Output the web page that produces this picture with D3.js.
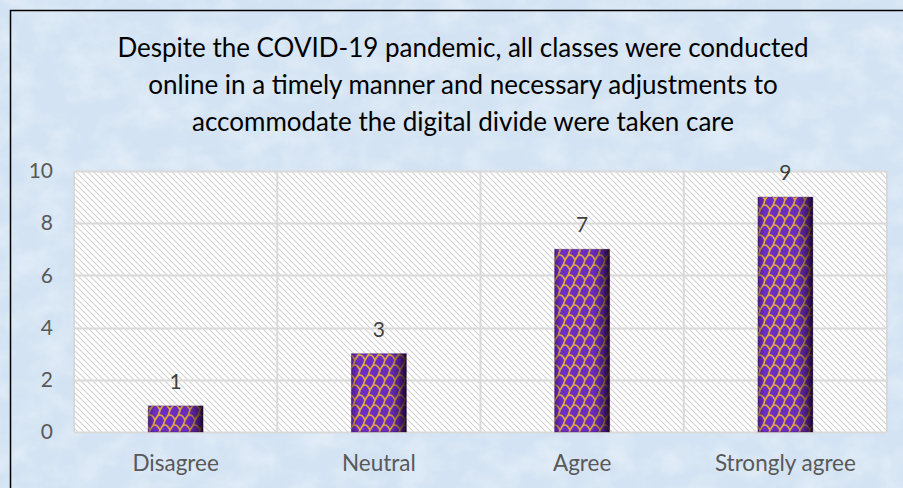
<!DOCTYPE html>
<html>
<head>
<meta charset="utf-8">
<script src="https://cdn.jsdelivr.net/npm/d3@7/dist/d3.min.js"></script>
<style>
  body { margin: 0; padding: 0; background: #fff; }
  svg { display: block; }
  text { font-family: Lato, "Open Sans", sans-serif; }
</style>
</head>
<body>
<div id="chart"></div>
<script>
// chart data
var categories = ["Disagree", "Neutral", "Agree", "Strongly agree"];
var values = [1, 3, 7, 9];
var yTicks = [0, 2, 4, 6, 8, 10];
var titleLines = [
    "Despite the COVID-19 pandemic, all classes were conducted",
    "online in a timely manner and necessary adjustments to",
    "accommodate the digital divide were taken care"
];

var width = 903, height = 488;
var plot = {left: 74, right: 887, top: 171, bottom: 432};

var svg = d3.select("#chart").append("svg")
    .attr("width", width)
    .attr("height", height);

var defs = svg.append("defs");

// mottled blue background
var f = defs.append("filter").attr("id", "mottle")
    .attr("x", 0).attr("y", 0).attr("width", "100%").attr("height", "100%");
f.append("feTurbulence").attr("type", "fractalNoise")
    .attr("baseFrequency", "0.03 0.04").attr("numOctaves", 4).attr("seed", 7);
f.append("feColorMatrix").attr("type", "matrix")
    .attr("values", "0 0 0 0 1  0 0 0 0 1  0 0 0 0 1  0 0 0 1.2 -0.45");

// diagonal hatch for plot area
var hatch = defs.append("pattern").attr("id", "hatch")
    .attr("patternUnits", "userSpaceOnUse")
    .attr("width", 6).attr("height", 6);
hatch.append("rect").attr("width", 6).attr("height", 6).attr("fill", "#ffffff");
hatch.append("path").attr("d", "M0,0L6,6M-1,5L1,7M5,-1L7,1")
    .attr("stroke", "#d2d2d2").attr("stroke-width", 1.1);

// purple + gold scallop texture for bars (rows offset by half a tile)
var tex = defs.append("pattern").attr("id", "scales")
    .attr("patternUnits", "userSpaceOnUse")
    .attr("width", 20).attr("height", 20);
tex.append("rect").attr("width", 20).attr("height", 20).attr("fill", "#6d2ec4");
tex.append("path")
    .attr("d", "M-10,10 Q-5,0 0,10 Q5,0 10,10 Q15,0 20,10 Q25,0 30,10" +
        " M-5,20 Q0,10 5,20 Q10,10 15,20 Q20,10 25,20" +
        " M-5,0 Q0,-10 5,0 Q10,-10 15,0 Q20,-10 25,0" +
        " M0,10 Q-1,15 -5,20 M10,10 Q9,15 5,20 M20,10 Q19,15 15,20" +
        " M5,0 Q4,5 0,10 M15,0 Q14,5 10,10")
    .attr("fill", "none").attr("stroke", "#e3aa3c").attr("stroke-width", 1.7);

var shade = defs.append("linearGradient").attr("id", "shade")
    .attr("x1", 0).attr("x2", 1).attr("y1", 0).attr("y2", 0);
shade.append("stop").attr("offset", "0%").attr("stop-color", "#2a0840").attr("stop-opacity", 0.45);
shade.append("stop").attr("offset", "12%").attr("stop-color", "#2a0840").attr("stop-opacity", 0.0);
shade.append("stop").attr("offset", "70%").attr("stop-color", "#2a0840").attr("stop-opacity", 0.05);
shade.append("stop").attr("offset", "88%").attr("stop-color", "#1a0428").attr("stop-opacity", 0.45);
shade.append("stop").attr("offset", "100%").attr("stop-color", "#0e0218").attr("stop-opacity", 0.9);

svg.append("rect").attr("width", width).attr("height", height).attr("fill", "#d3e3f3");
svg.append("rect").attr("width", width).attr("height", height)
    .attr("filter", "url(#mottle)").attr("opacity", 0.55);

// outer frame (top and left visible)
svg.append("line").attr("x1", 10).attr("x2", width).attr("y1", 10.5).attr("y2", 10.5)
    .attr("stroke", "#000").attr("stroke-width", 1.5);
svg.append("line").attr("x1", 10.5).attr("x2", 10.5).attr("y1", 10).attr("y2", height)
    .attr("stroke", "#000").attr("stroke-width", 1.5);

// title
svg.append("g").selectAll("text")
    .data(titleLines)
    .enter().append("text")
    .attr("x", 463)
    .attr("y", function (d, i) { return 57 + i * 37; })
    .attr("text-anchor", "middle")
    .attr("font-size", 26)
    .attr("fill", "#000")
    .text(function (d) { return d; });

var x = d3.scaleBand().domain(categories).range([plot.left, plot.right]);
var y = d3.scaleLinear().domain([0, 10]).range([plot.bottom, plot.top]);

// plot area
svg.append("rect")
    .attr("x", plot.left).attr("y", plot.top)
    .attr("width", plot.right - plot.left).attr("height", plot.bottom - plot.top)
    .attr("fill", "url(#hatch)");

// gridlines
svg.append("g").selectAll("line")
    .data(yTicks)
    .enter().append("line")
    .attr("x1", plot.left).attr("x2", plot.right)
    .attr("y1", function (d) { return Math.round(y(d)) + 0.5; })
    .attr("y2", function (d) { return Math.round(y(d)) + 0.5; })
    .attr("stroke", "#d9d9d9").attr("stroke-width", 2);

svg.append("g").selectAll("line")
    .data(categories.concat(["end"]))
    .enter().append("line")
    .attr("x1", function (d, i) { return i < categories.length ? x(d) : plot.right; })
    .attr("x2", function (d, i) { return i < categories.length ? x(d) : plot.right; })
    .attr("y1", plot.top).attr("y2", plot.bottom)
    .attr("stroke", "#d9d9d9").attr("stroke-width", 2);

// y axis labels
var yAxis = d3.axisLeft(y).tickValues(yTicks).tickSize(0).tickPadding(0);
var yg = svg.append("g").attr("transform", "translate(53,0)").call(yAxis);
yg.select(".domain").remove();
yg.selectAll("text").attr("font-size", 21).attr("fill", "#595959")
    .attr("font-family", "Lato, 'Open Sans', sans-serif");

// x axis labels
var xAxis = d3.axisBottom(x).tickSize(0).tickPadding(0);
var xg = svg.append("g").attr("transform", "translate(0," + 455 + ")").call(xAxis);
xg.select(".domain").remove();
xg.selectAll("text").attr("font-size", 22.5).attr("fill", "#595959")
    .attr("font-family", "Lato, 'Open Sans', sans-serif");

// bars
var barW = x.bandwidth() * 0.27;
var bars = svg.append("g").selectAll("g")
    .data(values)
    .enter().append("g");

bars.append("rect")
    .attr("x", function (d, i) { return x(categories[i]) + x.bandwidth() / 2 - barW / 2; })
    .attr("y", function (d) { return y(d); })
    .attr("width", barW)
    .attr("height", function (d) { return y(0) - y(d); })
    .attr("fill", "url(#scales)");

bars.append("rect")
    .attr("x", function (d, i) { return x(categories[i]) + x.bandwidth() / 2 - barW / 2; })
    .attr("y", function (d) { return y(d); })
    .attr("width", barW)
    .attr("height", function (d) { return y(0) - y(d); })
    .attr("fill", "url(#shade)")
    .attr("stroke", "#2a0840").attr("stroke-opacity", 0.35).attr("stroke-width", 1);

// value labels
bars.append("text")
    .attr("x", function (d, i) { return x(categories[i]) + x.bandwidth() / 2; })
    .attr("y", function (d) { return y(d) - 17; })
    .attr("text-anchor", "middle")
    .attr("font-size", 21)
    .attr("fill", "#404040")
    .text(function (d) { return d; });
</script>
</body>
</html>
